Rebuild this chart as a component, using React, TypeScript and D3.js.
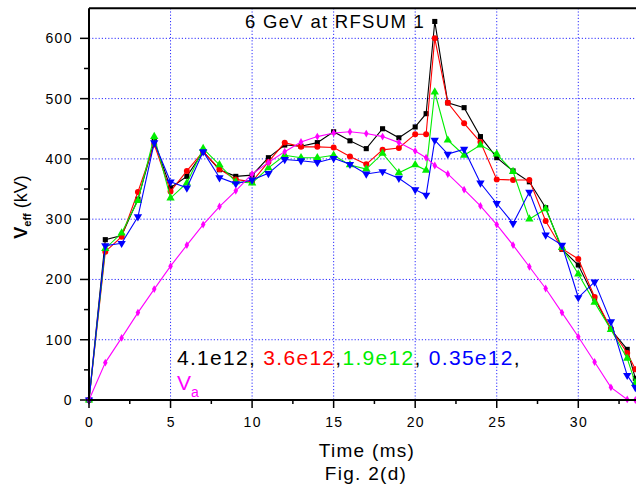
import React from "react";
import * as d3 from "d3";

const times = [0,1,2,3,4,5,6,7,8,9,10,11,12,13,14,15,16,17,18,19,20,20.67,21.2,22,23,24,25,26,27,28,29,30,31,32,33,33.5];
const s41 = [0,266,273,333,429,352,371,412,382,371,373,402,423,421,427,445,430,417,450,435,453,475,628,493,485,437,402,380,362,319,250,224,169,117,84,36];
const s36 = [0,246,271,345,424,346,380,412,383,366,362,395,427,420,420,419,404,391,415,418,441,441,600,493,459,428,366,365,365,297,251,234,171,118,78,51];
const s19 = [0,251,277,331,437,335,360,417,390,362,360,385,406,402,402,406,390,383,409,377,390,381,511,431,406,423,408,379,300,317,253,209,162,117,69,28];
const s035 = [0,256,260,304,427,362,352,412,369,359,365,376,399,397,394,401,391,375,379,368,349,340,431,408,416,360,326,293,345,274,257,170,196,130,41,21];
const va = [0,62,103,145,184,222,257,291,321,347,375,394,412,428,437,443,445,442,437,427,413,402,389,375,349,322,291,257,221,185,145,105,63,21,1,0];

const xTicks = [0,5,10,15,20,25,30];
const yTicks = [0,100,200,300,400,500,600];

const W = 636, H = 493;
const FONT = "Arial, 'Liberation Sans', sans-serif";

export default function App() {
  const x = d3.scaleLinear().domain([0, 33.6]).range([89, 637]);
  const y = d3.scaleLinear().domain([0, 650]).range([400, 8.2]);
  const line = d3.line<number>().x((_, i) => x(times[i])).y((v) => y(v));

  const series = [
    { data: s41, color: "#000000", sym: d3.symbolSquare, size: 26, rot: 0 },
    { data: s36, color: "#ff0000", sym: d3.symbolCircle, size: 28, rot: 0 },
    { data: s19, color: "#00ee00", sym: d3.symbolTriangle, size: 30, rot: 0 },
    { data: s035, color: "#0000ff", sym: d3.symbolTriangle, size: 30, rot: 180 },
    { data: va, color: "#ff00ff", sym: d3.symbolDiamond, size: 18, rot: 0 },
  ];

  const xMinor = d3.range(0, 33.6, 2.5);
  const yMinor = d3.range(0, 650, 50);

  return (
    <svg width={W} height={H} style={{ position: "fixed", left: 0, top: 0, background: "#fff" }} fontFamily={FONT}>
      <rect x={0} y={0} width={W} height={H} fill="#fff" />
      {/* grid */}
      {xTicks.filter((t) => t > 0).map((t) => (
        <line key={"gx" + t} x1={x(t)} x2={x(t)} y1={y(650)} y2={y(0)} stroke="#2a2aff" strokeWidth={1} strokeDasharray="1.2,2" />
      ))}
      {yTicks.filter((t) => t > 0).map((t) => (
        <line key={"gy" + t} x1={x(0)} x2={W} y1={y(t)} y2={y(t)} stroke="#2a2aff" strokeWidth={1} strokeDasharray="1.2,2" />
      ))}
      {/* series */}
      {series.map((s, k) => (
        <g key={"s" + k}>
          <path d={line(s.data) || ""} fill="none" stroke={s.color} strokeWidth={1.1} />
          {s.data.map((v, i) => (
            <path key={i} d={d3.symbol().type(s.sym).size(s.size)() || ""}
              transform={`translate(${x(times[i])},${y(v)}) rotate(${s.rot})`} fill={s.color} />
          ))}
        </g>
      ))}
      {/* axes */}
      <line x1={x(0)} x2={W} y1={y(0)} y2={y(0)} stroke="#000" strokeWidth={2} />
      <line x1={x(0)} x2={W} y1={y(650)} y2={y(650)} stroke="#000" strokeWidth={2} />
      <line x1={x(0)} x2={x(0)} y1={y(650)} y2={y(0)} stroke="#000" strokeWidth={2} />
      {xMinor.map((t) => {
        const major = t % 5 === 0;
        return <line key={"xt" + t} x1={x(t)} x2={x(t)} y1={y(0)} y2={y(0) + (major ? 8 : 4)} stroke="#000" strokeWidth={1.5} />;
      })}
      {yMinor.map((t) => {
        const major = t % 100 === 0;
        return <line key={"yt" + t} x1={x(0)} x2={x(0) - (major ? 9 : 5)} y1={y(t)} y2={y(t)} stroke="#000" strokeWidth={1.5} />;
      })}
      {xTicks.map((t) => (
        <text key={"xl" + t} x={x(t) + 0.7} y={427} textAnchor="middle" fontSize={14} letterSpacing={1.4} fill="#000">{t}</text>
      ))}
      {yTicks.map((t) => (
        <text key={"yl" + t} x={73} y={y(t) + 5} textAnchor="end" fontSize={14} letterSpacing={1.4} fill="#000">{t}</text>
      ))}
      {/* axis titles */}
      <text x={367} y={457} textAnchor="middle" fontSize={19} letterSpacing={1.3} fill="#000">Time (ms)</text>
      <text x={366} y={480} textAnchor="middle" fontSize={19} letterSpacing={1.3} fill="#000">Fig. 2(d)</text>
      <text transform="translate(27,207) rotate(-90)" textAnchor="middle" fontSize={18} fill="#000">
        <tspan fontWeight="bold">V</tspan>
        <tspan fontWeight="bold" fontSize={11} dy={4}>eff</tspan>
        <tspan dy={-4}> (kV)</tspan>
      </text>
      {/* title */}
      <text x={245} y={28} fontSize={18.5} letterSpacing={1.3} fill="#000">6 GeV at RFSUM 1</text>
      {/* legend text */}
      <text x={177} y={365} fontSize={21} letterSpacing={1.3}>
        <tspan fill="#000">4.1e12</tspan>
        <tspan fill="#000">, </tspan>
        <tspan fill="#ff0000">3.6e12</tspan>
        <tspan fill="#000">,</tspan>
        <tspan fill="#00ee00">1.9e12</tspan>
        <tspan fill="#000">, </tspan>
        <tspan fill="#0000ff">0.35e12</tspan>
        <tspan fill="#000">,</tspan>
      </text>
      <text x={177} y={390} fontSize={21} fill="#ff00ff">
        V<tspan fontSize={14} dy={7}>a</tspan>
      </text>
    </svg>
  );
}
